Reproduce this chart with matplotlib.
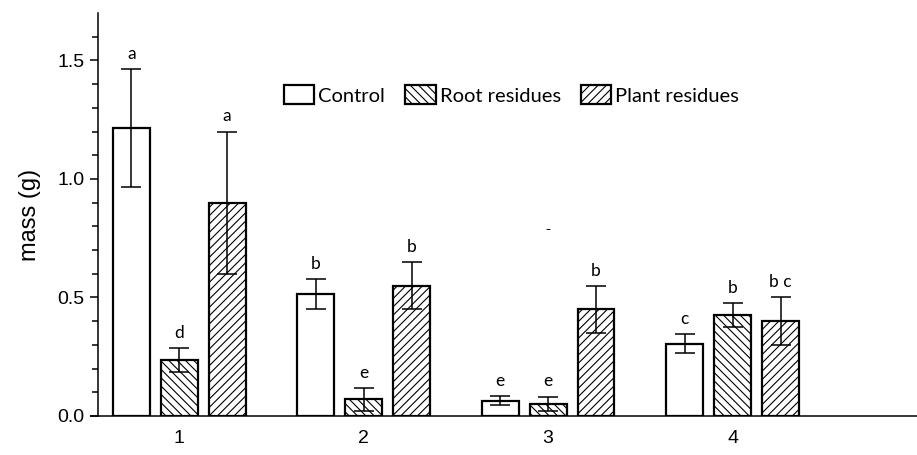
import numpy as np
import matplotlib.pyplot as plt

# data
groups = ['1', '2', '3', '4']
control = [1.215, 0.515, 0.065, 0.305]
control_err = [0.25, 0.063, 0.018, 0.04]
root = [0.235, 0.07, 0.052, 0.425]
root_err = [0.05, 0.048, 0.03, 0.05]
plant = [0.90, 0.55, 0.45, 0.40]
plant_err = [0.30, 0.10, 0.10, 0.10]
letters_control = ['a', 'b', 'e', 'c']
letters_root = ['d', 'e', 'e', 'b']
letters_plant = ['a', 'b', 'b', 'b c']

plt.rcParams['font.family'] = ['Liberation Sans', 'DejaVu Sans']
plt.rcParams['hatch.linewidth'] = 0.8

fig = plt.figure(figsize=(9.17, 4.55), dpi=100)
ax = fig.add_axes([98 / 917, 1 - 416 / 455, 1 - 98 / 917, (416 - 13) / 455])

x = np.arange(1, 5)
off = 0.26
w = 0.2
series = [
    (control, control_err, letters_control, '', 'Control', -off),
    (root, root_err, letters_root, '\\\\\\\\', 'Root residues', 0),
    (plant, plant_err, letters_plant, '////', 'Plant residues', off),
]
for vals, errs, lets, hatch, lab, dx in series:
    ax.bar(x + dx, vals, w, color='white', edgecolor='black', linewidth=1.6,
           hatch=hatch, label=lab)
    ax.errorbar(x + dx, vals, yerr=errs, fmt='none', ecolor='black',
                elinewidth=1.1, capsize=7, capthick=1.1)
    for xi, v, e, t in zip(x + dx, vals, errs, lets):
        ax.text(xi, v + e + 0.03, t, ha='center', va='bottom', fontsize=12.5,
                family=['Lato', 'DejaVu Sans'])

# stray mark present in the original
ax.text(3, 0.79, '-', ha='center', va='center', fontsize=11)

ax.set_xlim(0.56, 5.0)
ax.set_ylim(0, 1.7)
ax.set_xticks(x)
ax.set_xticklabels(groups)
ax.tick_params(axis='x', length=0, pad=10, labelsize=14)
ax.set_yticks([0.0, 0.5, 1.0, 1.5])
ax.set_yticks(np.arange(0.1, 1.7, 0.1), minor=True)
ax.tick_params(axis='y', labelsize=14, length=6, width=1.1)
ax.tick_params(axis='y', which='minor', length=4, width=1.1)
ax.set_yticklabels(['0.0', '0.5', '1.0', '1.5'])
ax.set_ylabel('mass (g)', fontsize=17, labelpad=12)
ax.spines['top'].set_visible(False)
ax.spines['right'].set_visible(False)
ax.spines['left'].set_linewidth(1.1)
ax.spines['bottom'].set_linewidth(1.1)
ax.spines['bottom'].set_bounds(0.52, 5.0)
ax.spines['bottom'].set_clip_on(False)

ax.legend(loc='center', bbox_to_anchor=(0.505, 0.797), ncol=3, frameon=False,
          handlelength=1.5, handleheight=1.1, handletextpad=0.2,
          columnspacing=1.0, prop={'family': ['Lato', 'DejaVu Sans'], 'size': 14.5})

fig.savefig('out.png', dpi=100)
